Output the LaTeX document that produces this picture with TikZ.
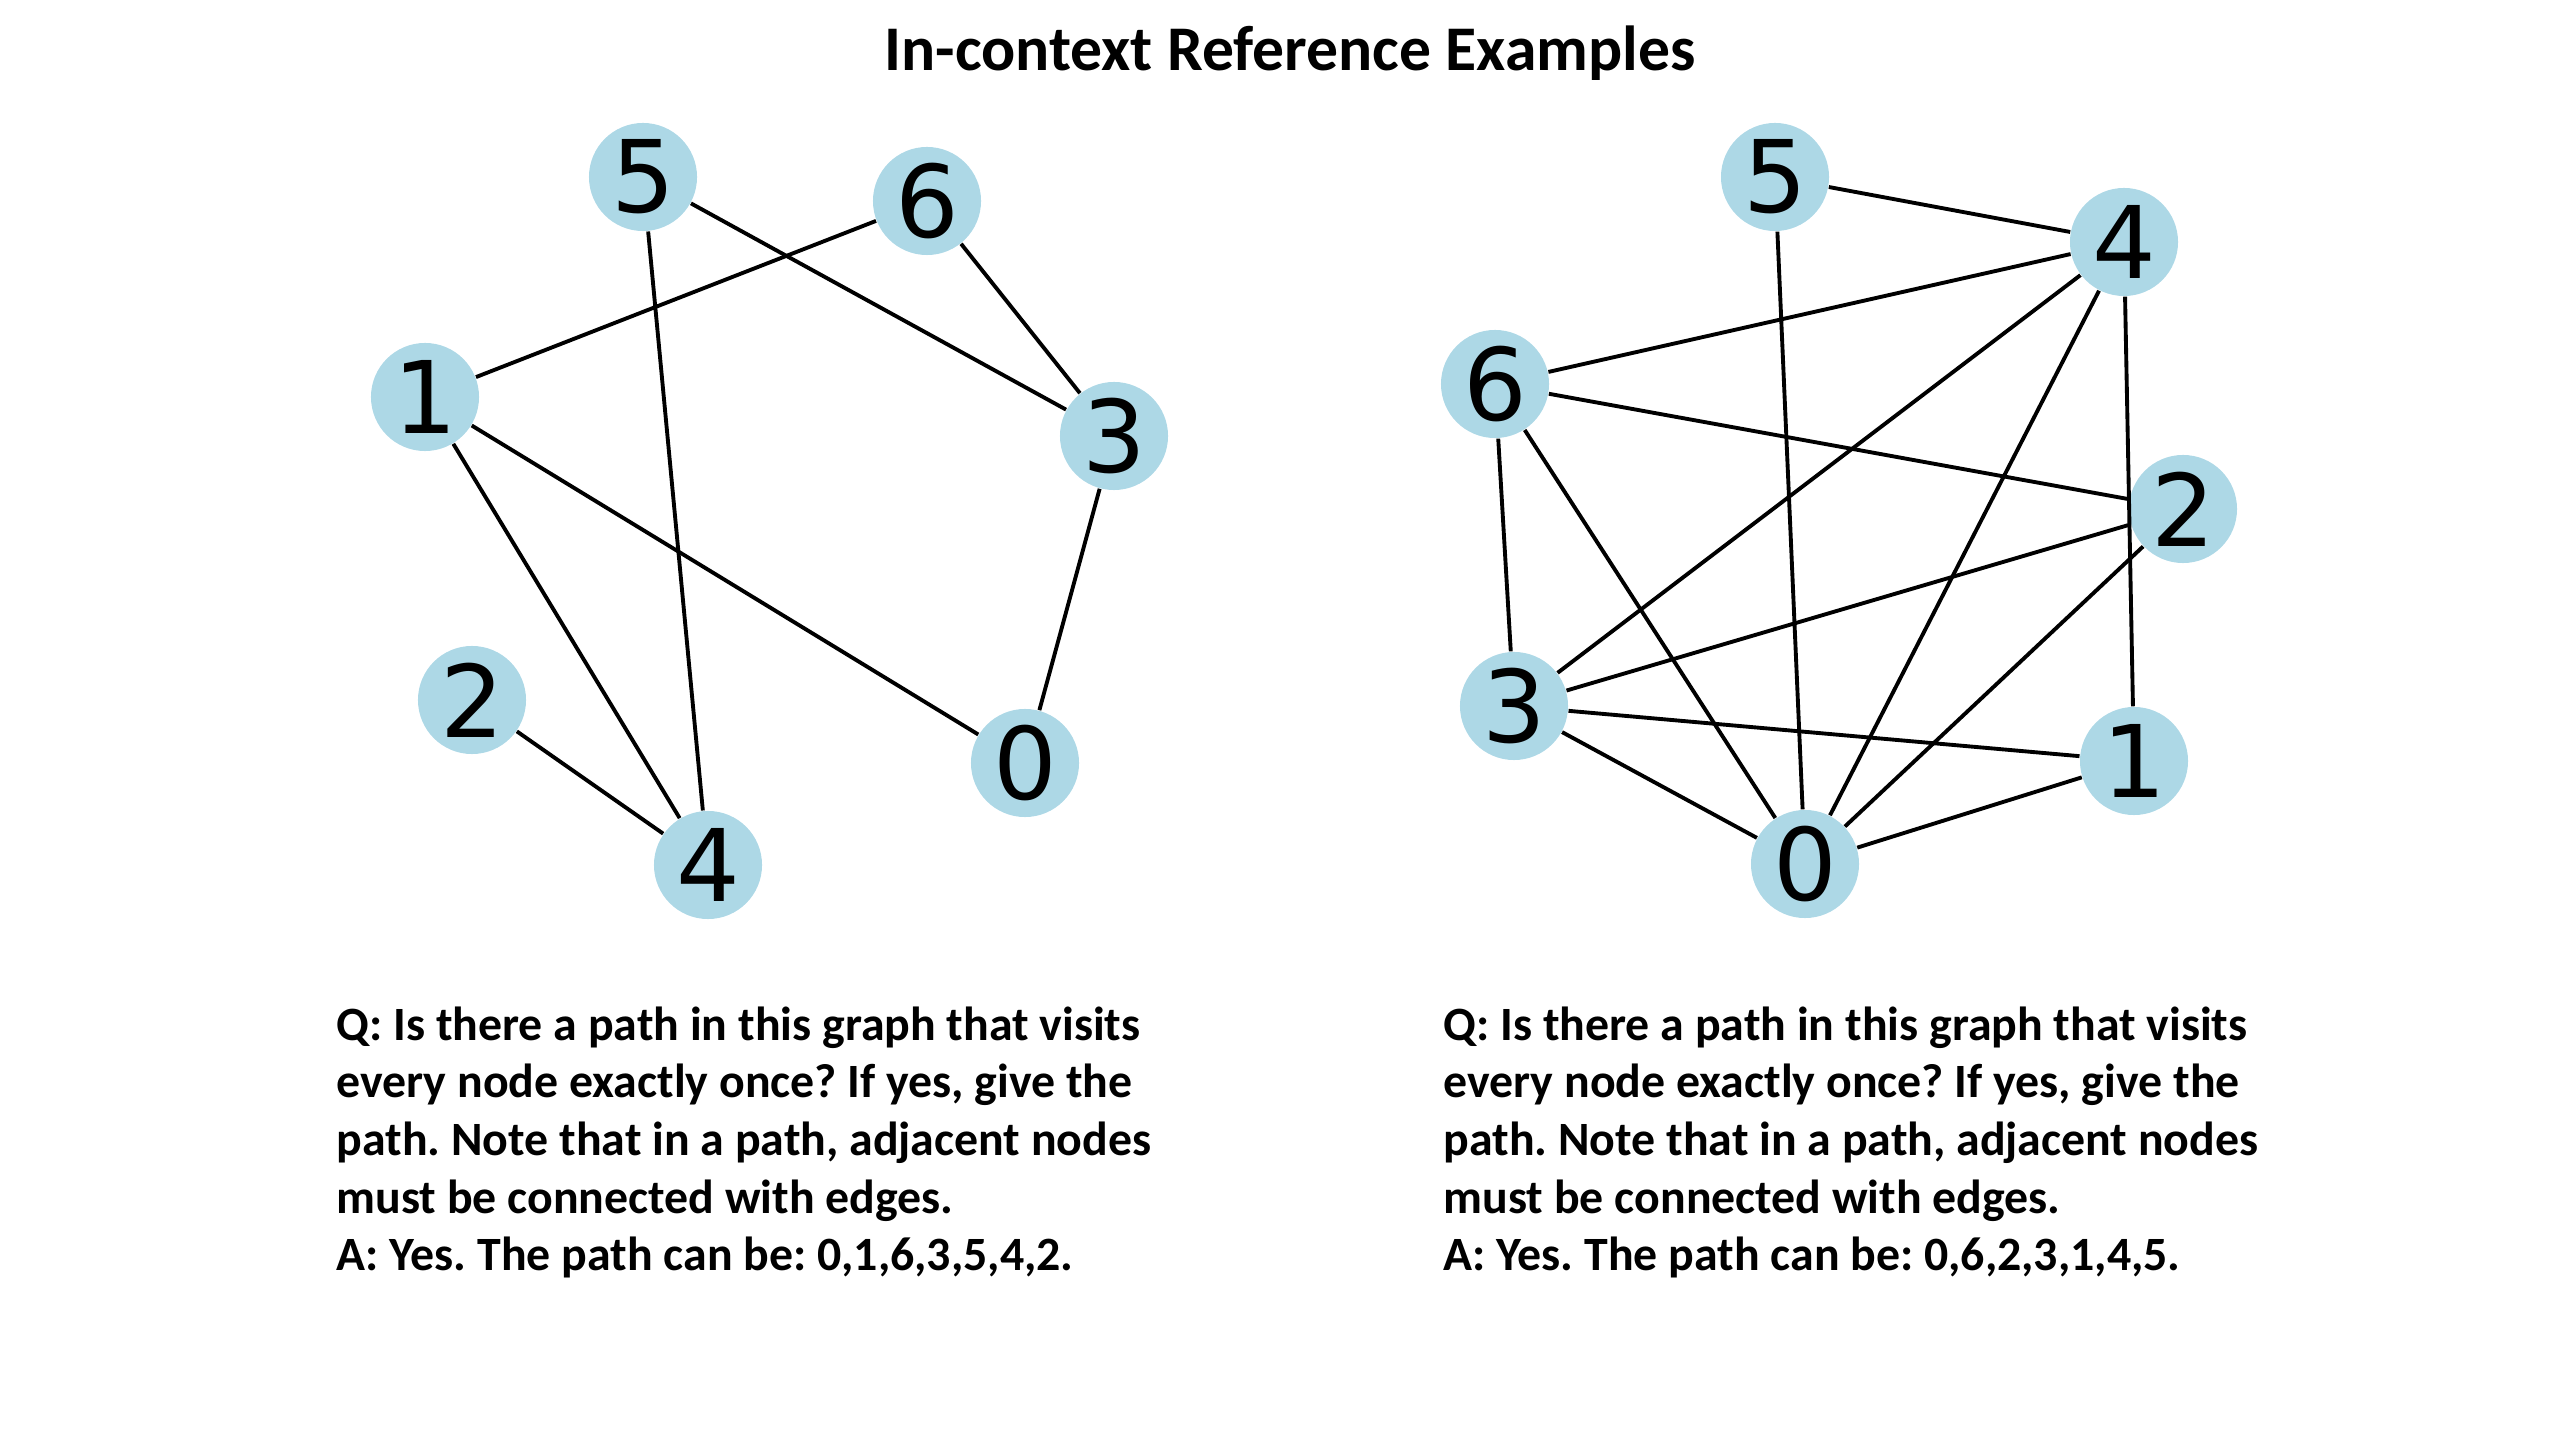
\documentclass[tikz,border=0pt]{standalone}
\usepackage{fontspec}
\setmainfont{Carlito}
\newfontfamily\digitfont{DejaVu Sans}
\usepackage{tikz}
\usetikzlibrary{positioning, arrows}
\usetikzlibrary{arrows.meta}
\frenchspacing

\tikzset{
    vert/.style={circle, fill={rgb,255:red,173;green,216;blue,230}, minimum size=1.08cm, inner sep=0pt, font=\digitfont\fontsize{28.5}{30}\selectfont},
    edge/.style={line width=1.1pt},
    qa/.style={anchor=north west, inner sep=0pt, align=left, font=\bfseries\fontsize{13.6}{16.4}\selectfont}
}

\begin{document}
\begin{tikzpicture}[>=stealth, x=0.01cm, y=-0.01cm]
    \useasboundingbox (0,0) rectangle (2560,1440);

    % Title
    \node[font=\bfseries\fontsize{18.1}{21}\selectfont] (title) at (1290,53) {In-context Reference Examples};

    % Define nodes (left graph)
    \node[vert] (a5) at (643,177) {5};
    \node[vert] (a6) at (927,201) {6};
    \node[vert] (a1) at (425,397) {1};
    \node[vert] (a3) at (1114,436) {3};
    \node[vert] (a2) at (472,700) {2};
    \node[vert] (a0) at (1025,763) {0};
    \node[vert] (a4) at (708,865) {4};

    % Draw edges (left graph)
    \draw[edge] (a5) -- (a3);
    \draw[edge] (a5) -- (a4);
    \draw[edge] (a6) -- (a1);
    \draw[edge] (a6) -- (a3);
    \draw[edge] (a1) -- (a0);
    \draw[edge] (a1) -- (a4);
    \draw[edge] (a2) -- (a4);
    \draw[edge] (a3) -- (a0);

    % Define nodes (right graph)
    \node[vert] (b5) at (1775,177) {5};
    \node[vert] (b4) at (2124,242) {4};
    \node[vert] (b6) at (1495,384) {6};
    \node[vert] (b2) at (2183,509) {2};
    \node[vert] (b3) at (1514,706) {3};
    \node[vert] (b1) at (2134,761) {1};
    \node[vert] (b0) at (1805,864) {0};

    % Draw edges (right graph)
    \draw[edge] (b5) -- (b4);
    \draw[edge] (b5) -- (b0);
    \draw[edge] (b4) -- (b6);
    \draw[edge] (b4) -- (b3);
    \draw[edge] (b4) -- (b0);
    \draw[edge] (b4) -- (b1);
    \draw[edge] (b6) -- (b2);
    \draw[edge] (b6) -- (b3);
    \draw[edge] (b6) -- (b0);
    \draw[edge] (b2) -- (b3);
    \draw[edge] (b2) -- (b0);
    \draw[edge] (b3) -- (b1);
    \draw[edge] (b3) -- (b0);
    \draw[edge] (b1) -- (b0);

    % Question and answer text
    \node[qa] (qleft) at (336,1006) {Q: Is there a path in this graph that visits\\every node exactly once? If yes, give the\\path. Note that in a path, adjacent nodes\\must be connected with edges.\\A: Yes. The path can be: 0,1,6,3,5,4,2.};
    \node[qa] (qright) at (1443,1006) {Q: Is there a path in this graph that visits\\every node exactly once? If yes, give the\\path. Note that in a path, adjacent nodes\\must be connected with edges.\\A: Yes. The path can be: 0,6,2,3,1,4,5.};

\end{tikzpicture}
\end{document}
